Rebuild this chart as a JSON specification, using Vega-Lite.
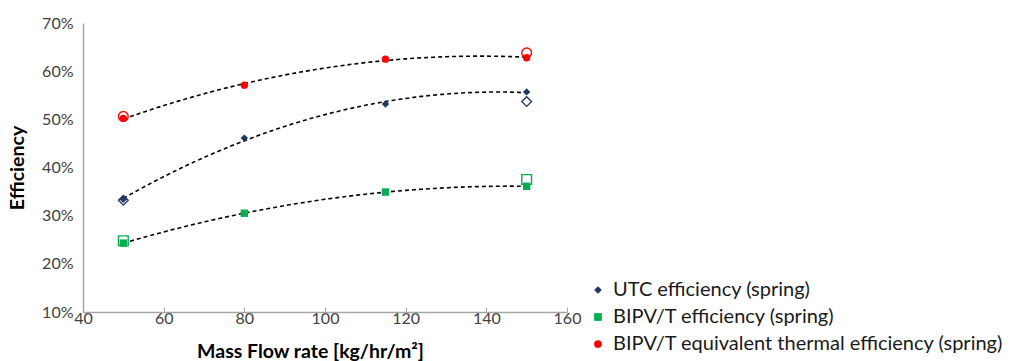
{
  "$schema": "https://vega.github.io/schema/vega-lite/v6.json",
  "autosize": "none",
  "width": 484,
  "height": 289,
  "padding": {"left": 83, "top": 23, "right": 452, "bottom": 49},
  "background": "white",
  "config": {
    "view": {"stroke": null},
    "font": "Lato",
    "axis": {"grid": false, "domainColor": "#A6A6A6", "labelColor": "#404040", "labelFont": "Lato", "titleFont": "Lato", "titleColor": "#000000", "labelFlush": false}
  },
  "data": {
    "values": [
      {"series": "UTC efficiency (spring)", "kind": "model", "flow": 50, "eff": 0.334},
      {"series": "UTC efficiency (spring)", "kind": "model", "flow": 80, "eff": 0.461},
      {"series": "UTC efficiency (spring)", "kind": "model", "flow": 115, "eff": 0.532},
      {"series": "UTC efficiency (spring)", "kind": "model", "flow": 150, "eff": 0.557},
      {"series": "BIPV/T efficiency (spring)", "kind": "model", "flow": 50, "eff": 0.243},
      {"series": "BIPV/T efficiency (spring)", "kind": "model", "flow": 80, "eff": 0.305},
      {"series": "BIPV/T efficiency (spring)", "kind": "model", "flow": 115, "eff": 0.349},
      {"series": "BIPV/T efficiency (spring)", "kind": "model", "flow": 150, "eff": 0.361},
      {"series": "BIPV/T equivalent thermal efficiency (spring)", "kind": "model", "flow": 50, "eff": 0.502},
      {"series": "BIPV/T equivalent thermal efficiency (spring)", "kind": "model", "flow": 80, "eff": 0.571},
      {"series": "BIPV/T equivalent thermal efficiency (spring)", "kind": "model", "flow": 115, "eff": 0.625},
      {"series": "BIPV/T equivalent thermal efficiency (spring)", "kind": "model", "flow": 150, "eff": 0.628},
      {"series": "UTC efficiency (spring)", "kind": "measured", "flow": 50, "eff": 0.332},
      {"series": "UTC efficiency (spring)", "kind": "measured", "flow": 150, "eff": 0.537},
      {"series": "BIPV/T efficiency (spring)", "kind": "measured", "flow": 50, "eff": 0.248},
      {"series": "BIPV/T efficiency (spring)", "kind": "measured", "flow": 150, "eff": 0.375},
      {"series": "BIPV/T equivalent thermal efficiency (spring)", "kind": "measured", "flow": 50, "eff": 0.506},
      {"series": "BIPV/T equivalent thermal efficiency (spring)", "kind": "measured", "flow": 150, "eff": 0.638}
    ]
  },
  "encoding": {
    "x": {
      "field": "flow", "type": "quantitative",
      "scale": {"domain": [40, 160], "nice": false, "zero": false},
      "axis": {
        "values": [40, 60, 80, 100, 120, 140, 160],
        "title": "Mass Flow rate [kg/hr/m²]",
        "titleFontSize": 19.5, "titleFontWeight": "bold",
        "titleX": 227, "titleY": 45, "titleAnchor": null, "titleAlign": "center", "titleBaseline": "alphabetic",
        "labelFontSize": 16, "labelPadding": 3,
        "tickSize": -5, "tickColor": "#A6A6A6", "domainWidth": 1.5
      }
    },
    "y": {
      "field": "eff", "type": "quantitative",
      "scale": {"domain": [0.1, 0.7], "nice": false, "zero": false},
      "axis": {
        "values": [0.1, 0.2, 0.3, 0.4, 0.5, 0.6, 0.7],
        "format": ".0%",
        "title": "Efficiency",
        "titleFontSize": 19.5, "titleFontWeight": "bold",
        "titleAngle": -90, "titleX": -60, "titleY": 144.5, "titleAlign": "center", "titleBaseline": "alphabetic",
        "labelFontSize": 16, "labelPadding": 10,
        "ticks": false, "domainWidth": 1.5
      }
    }
  },
  "layer": [
    {
      "transform": [
        {"filter": "datum.kind === 'model'"},
        {"regression": "eff", "on": "flow", "groupby": ["series"], "method": "poly", "order": 2, "extent": [50, 150]}
      ],
      "mark": {"type": "line", "color": "#000000", "strokeWidth": 1.6, "strokeDash": [4, 3]},
      "encoding": {"detail": {"field": "series"}}
    },
    {
      "transform": [{"filter": "datum.kind === 'model'"}],
      "mark": {"type": "point", "filled": true, "opacity": 1, "size": 55},
      "encoding": {
        "color": {
          "field": "series", "type": "nominal",
          "scale": {
            "domain": ["UTC efficiency (spring)", "BIPV/T efficiency (spring)", "BIPV/T equivalent thermal efficiency (spring)"],
            "range": ["#1F3864", "#00B050", "#FF0000"]
          },
          "legend": {
            "orient": "none", "legendX": 505, "legendY": 257, "title": null,
            "padding": 0, "rowPadding": 7,
            "labelFont": "Lato", "labelFontSize": 20, "labelColor": "#1a1a1a", "labelOffset": 5, "labelLimit": 600,
            "symbolSize": 60, "symbolStrokeWidth": 0, "symbolOpacity": 1
          }
        },
        "shape": {
          "field": "series", "type": "nominal",
          "scale": {
            "domain": ["UTC efficiency (spring)", "BIPV/T efficiency (spring)", "BIPV/T equivalent thermal efficiency (spring)"],
            "range": ["diamond", "square", "circle"]
          }
        }
      }
    },
    {
      "transform": [{"filter": "datum.kind === 'measured'"}],
      "mark": {"type": "point", "filled": false, "opacity": 1, "size": 95, "strokeWidth": 1.4},
      "encoding": {
        "color": {"field": "series", "type": "nominal"},
        "shape": {"field": "series", "type": "nominal"}
      }
    }
  ]
}
